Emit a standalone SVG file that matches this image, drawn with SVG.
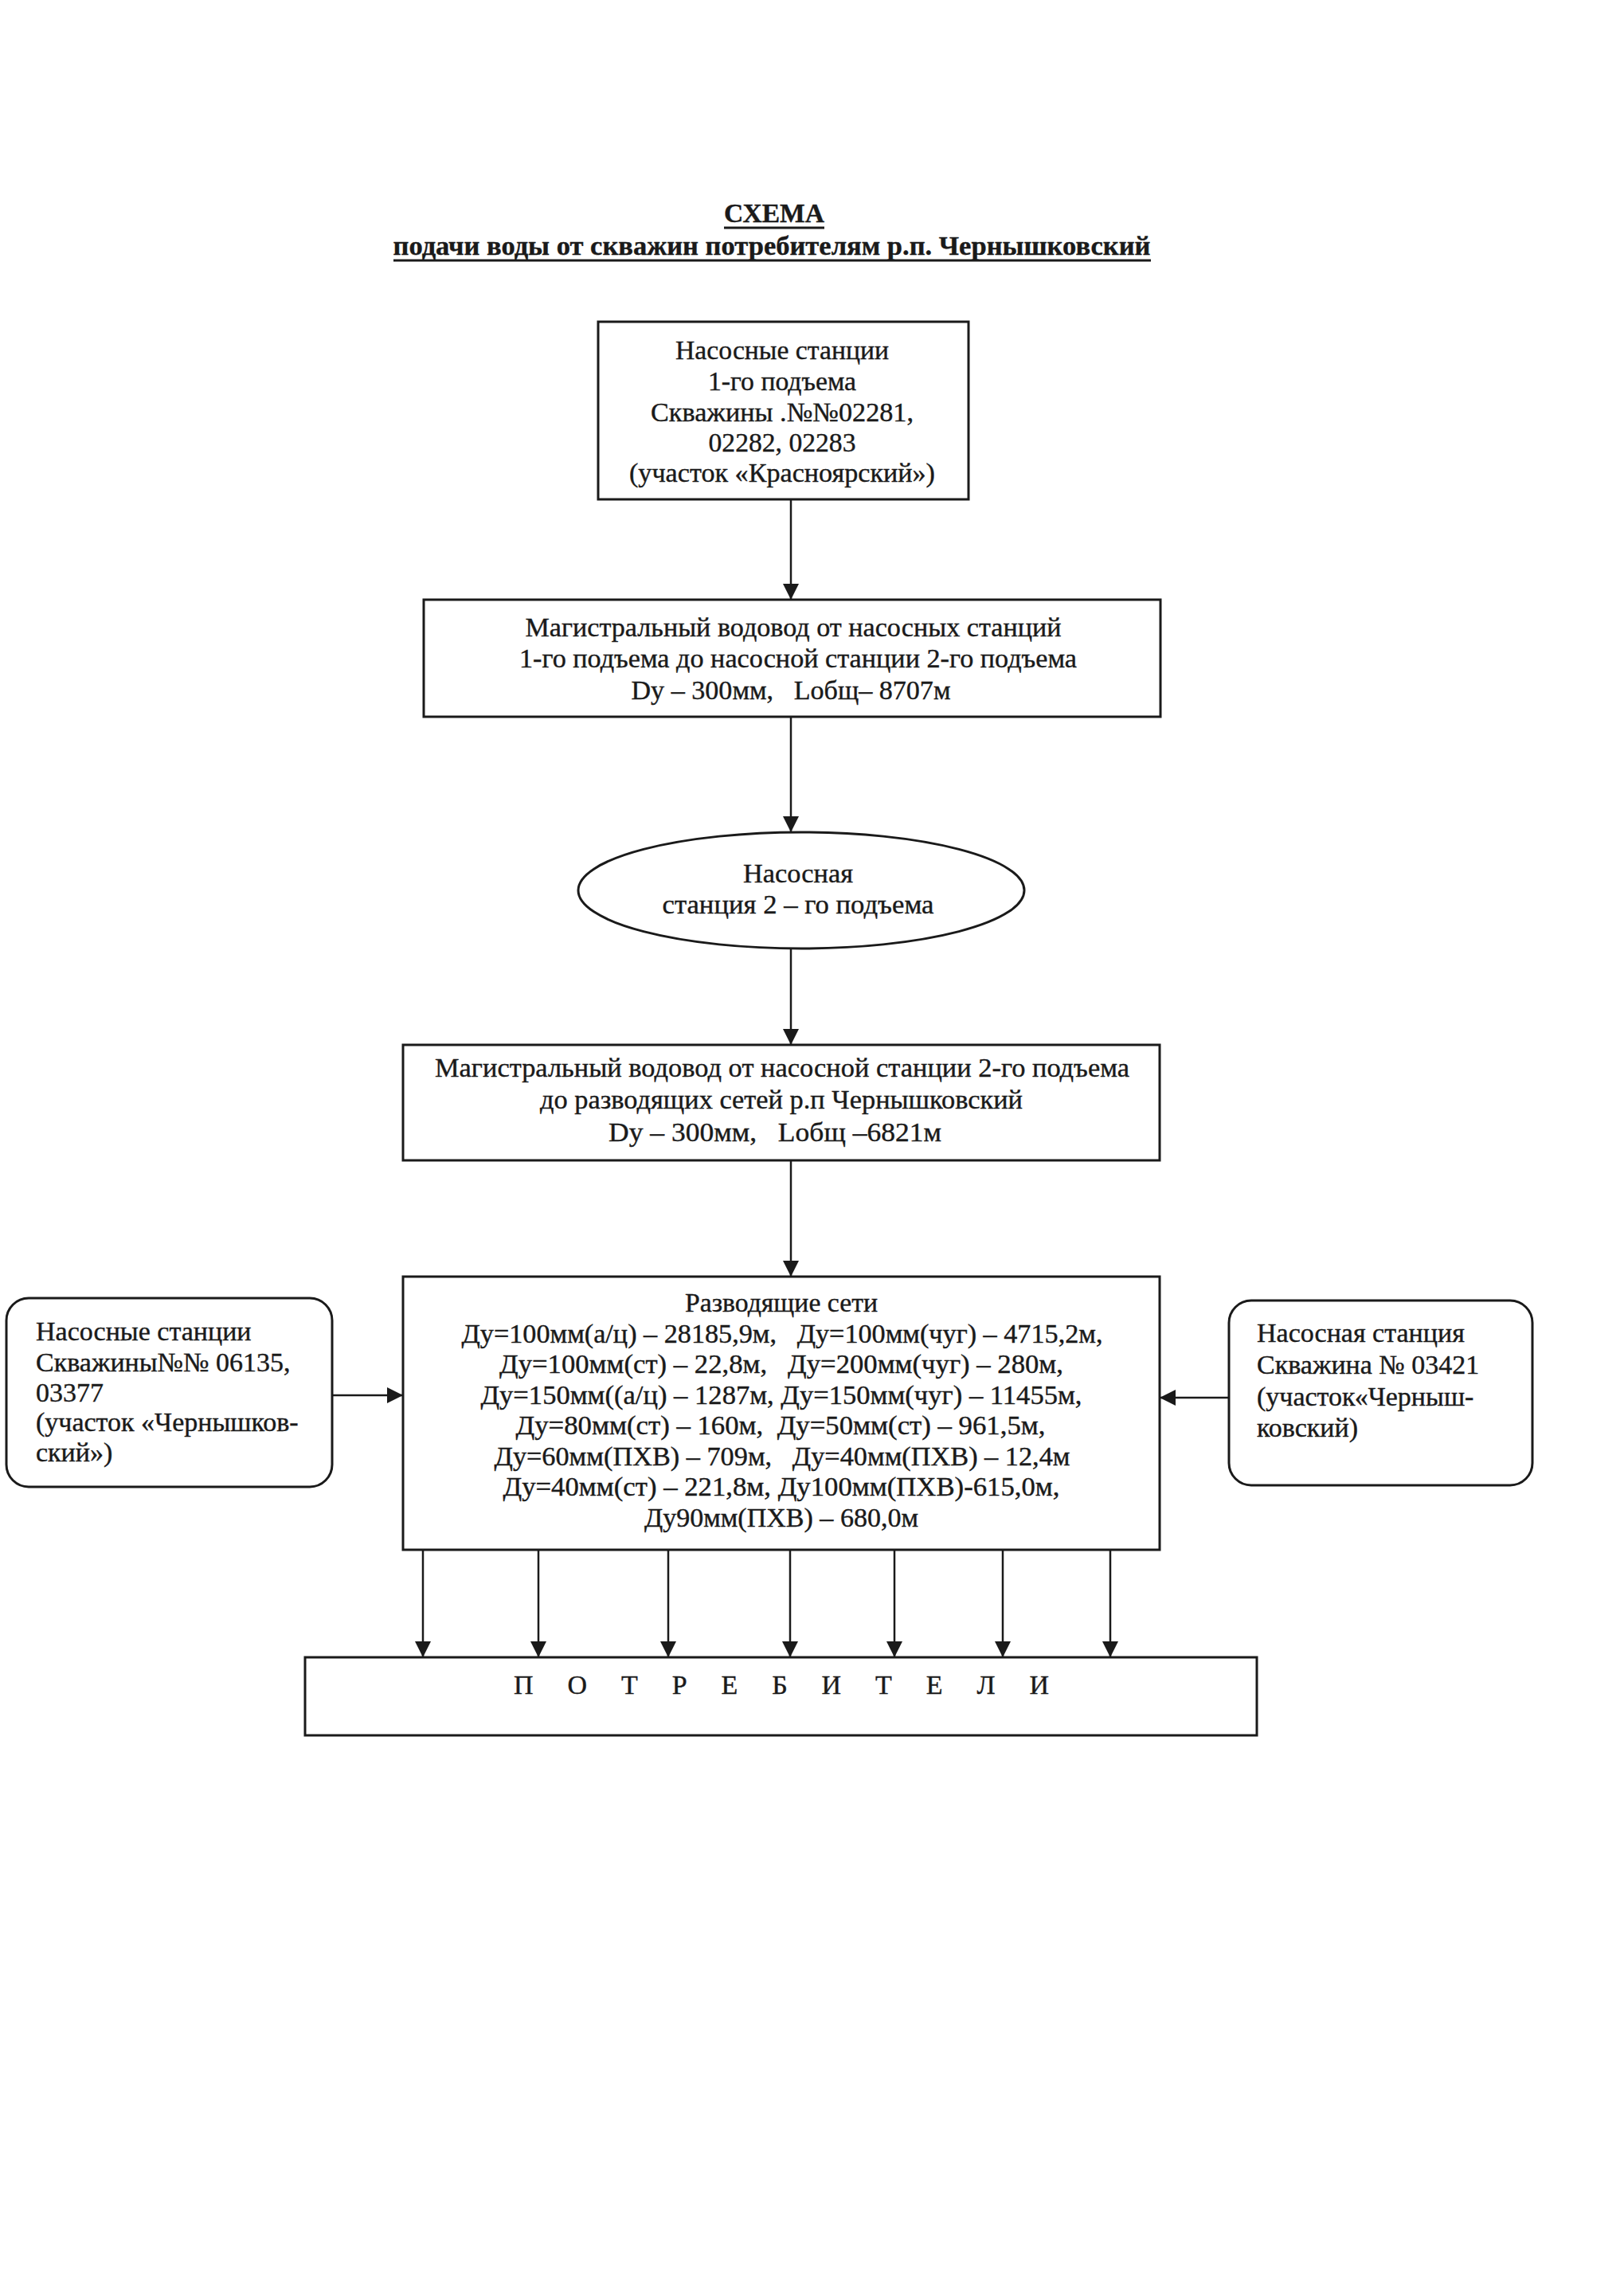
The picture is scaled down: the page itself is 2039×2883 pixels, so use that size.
<svg xmlns="http://www.w3.org/2000/svg" width="2039" height="2883" viewBox="0 0 2039 2883" xml:space="preserve">
<defs>
<marker id="ah" markerUnits="userSpaceOnUse" markerWidth="20" markerHeight="20" refX="20" refY="10" orient="auto"><path d="M0,0 L20,10 L0,20 z" fill="#1a1a1a"/></marker>
<style>
.box{fill:none;stroke:#1a1a1a;stroke-width:3}
.t{font-family:"Liberation Serif","Times New Roman",serif;font-size:34px;fill:#1a1a1a;stroke:#1a1a1a;stroke-width:0.4;white-space:pre}
.c{text-anchor:middle}
.b{font-weight:bold}
.conn line{stroke:#1a1a1a;stroke-width:2.5;marker-end:url(#ah)}
.ul{stroke:#1a1a1a;stroke-width:3}
</style>
</defs>
<rect width="2039" height="2883" fill="#ffffff"/>
<g id="title">
<text class="t c b" x="972" y="279" font-size="32" textLength="126" lengthAdjust="spacingAndGlyphs">СХЕМА</text>
<line class="ul" x1="909" y1="286" x2="1035" y2="286"/>
<text class="t c b" x="969" y="320" font-size="33" textLength="951" lengthAdjust="spacingAndGlyphs">подачи воды от скважин потребителям р.п. Чернышковский</text>
<line class="ul" x1="494" y1="327" x2="1445" y2="327"/>
</g>
<g id="node-ns1">
<rect class="box" x="751" y="404" width="465" height="223"/>
<text class="t c" x="982" y="451" textLength="268" lengthAdjust="spacingAndGlyphs">Насосные станции</text>
<text class="t c" x="982" y="490" textLength="186" lengthAdjust="spacingAndGlyphs">1-го подъема</text>
<text class="t c" x="982" y="529" textLength="330" lengthAdjust="spacingAndGlyphs">Скважины .№№02281,</text>
<text class="t c" x="982" y="567" textLength="185" lengthAdjust="spacingAndGlyphs">02282, 02283</text>
<text class="t c" x="982" y="605" textLength="384" lengthAdjust="spacingAndGlyphs">(участок «Красноярский»)</text>
</g>
<g id="node-mag1">
<rect class="box" x="532" y="753" width="925" height="147"/>
<text class="t c" x="996" y="799" textLength="673" lengthAdjust="spacingAndGlyphs">Магистральный водовод от насосных станций</text>
<text class="t c" x="1002" y="838" textLength="700" lengthAdjust="spacingAndGlyphs">1-го подъема до насосной станции 2-го подъема</text>
<text class="t c" x="993" y="878" textLength="401" lengthAdjust="spacingAndGlyphs">Dy – 300мм,   Lобщ– 8707м</text>
</g>
<g id="node-ns2">
<ellipse class="box" cx="1006" cy="1118" rx="280" ry="73"/>
<text class="t c" x="1002" y="1108" textLength="138" lengthAdjust="spacingAndGlyphs">Насосная</text>
<text class="t c" x="1002" y="1147" textLength="341" lengthAdjust="spacingAndGlyphs">станция 2 – го подъема</text>
</g>
<g id="node-mag2">
<rect class="box" x="506" y="1312" width="950" height="145"/>
<text class="t c" x="982" y="1352" textLength="872" lengthAdjust="spacingAndGlyphs">Магистральный водовод от насосной станции 2-го подъема</text>
<text class="t c" x="981" y="1392" textLength="606" lengthAdjust="spacingAndGlyphs">до разводящих сетей р.п Чернышковский</text>
<text class="t c" x="973" y="1433" textLength="418" lengthAdjust="spacingAndGlyphs">Dy – 300мм,   Lобщ –6821м</text>
</g>
<g id="node-nets">
<rect class="box" x="506" y="1603" width="950" height="343"/>
<text class="t c" x="981" y="1647" textLength="242" lengthAdjust="spacingAndGlyphs">Разводящие сети</text>
<text class="t c" x="982" y="1686" textLength="805" lengthAdjust="spacingAndGlyphs">Ду=100мм(а/ц) – 28185,9м,   Ду=100мм(чуг) – 4715,2м,</text>
<text class="t c" x="981" y="1724" textLength="708" lengthAdjust="spacingAndGlyphs">Ду=100мм(ст) – 22,8м,   Ду=200мм(чуг) – 280м,</text>
<text class="t c" x="981" y="1763" textLength="755" lengthAdjust="spacingAndGlyphs">Ду=150мм((а/ц) – 1287м, Ду=150мм(чуг) – 11455м,</text>
<text class="t c" x="980" y="1801" textLength="665" lengthAdjust="spacingAndGlyphs">Ду=80мм(ст) – 160м,  Ду=50мм(ст) – 961,5м,</text>
<text class="t c" x="982" y="1840" textLength="723" lengthAdjust="spacingAndGlyphs">Ду=60мм(ПХВ) – 709м,   Ду=40мм(ПХВ) – 12,4м</text>
<text class="t c" x="981" y="1878" textLength="699" lengthAdjust="spacingAndGlyphs">Ду=40мм(ст) – 221,8м, Ду100мм(ПХВ)-615,0м,</text>
<text class="t c" x="981" y="1917" textLength="344" lengthAdjust="spacingAndGlyphs">Ду90мм(ПХВ) – 680,0м</text>
</g>
<g id="node-left">
<rect class="box" x="8" y="1630" width="409" height="237" rx="28" ry="28"/>
<text class="t" x="45" y="1683">Насосные станции</text>
<text class="t" x="45" y="1722">Скважины№№ 06135,</text>
<text class="t" x="45" y="1760">03377</text>
<text class="t" x="45" y="1797">(участок «Чернышков-</text>
<text class="t" x="45" y="1835">ский»)</text>
</g>
<g id="node-right">
<rect class="box" x="1543" y="1633" width="381" height="232" rx="28" ry="28"/>
<text class="t" x="1578" y="1685">Насосная станция</text>
<text class="t" x="1578" y="1725">Скважина № 03421</text>
<text class="t" x="1578" y="1765">(участок«Черныш-</text>
<text class="t" x="1578" y="1804">ковский)</text>
</g>
<g id="node-consumers">
<rect class="box" x="383" y="2081" width="1195" height="98"/>
<text class="t" x="645" y="2127" font-size="33" textLength="672" lengthAdjust="spacing">П О Т Р Е Б И Т Е Л И</text>
</g>
<g id="connectors" class="conn">
<line x1="993" y1="627" x2="993" y2="753"/>
<line x1="993" y1="900" x2="993" y2="1045"/>
<line x1="993" y1="1191" x2="993" y2="1312"/>
<line x1="993" y1="1457" x2="993" y2="1603"/>
<line x1="417" y1="1752" x2="506" y2="1752"/>
<line x1="1543" y1="1755" x2="1456" y2="1755"/>
<line x1="531" y1="1946" x2="531" y2="2081"/>
<line x1="676" y1="1946" x2="676" y2="2081"/>
<line x1="839" y1="1946" x2="839" y2="2081"/>
<line x1="992" y1="1946" x2="992" y2="2081"/>
<line x1="1123" y1="1946" x2="1123" y2="2081"/>
<line x1="1259" y1="1946" x2="1259" y2="2081"/>
<line x1="1394" y1="1946" x2="1394" y2="2081"/>
</g>
</svg>
